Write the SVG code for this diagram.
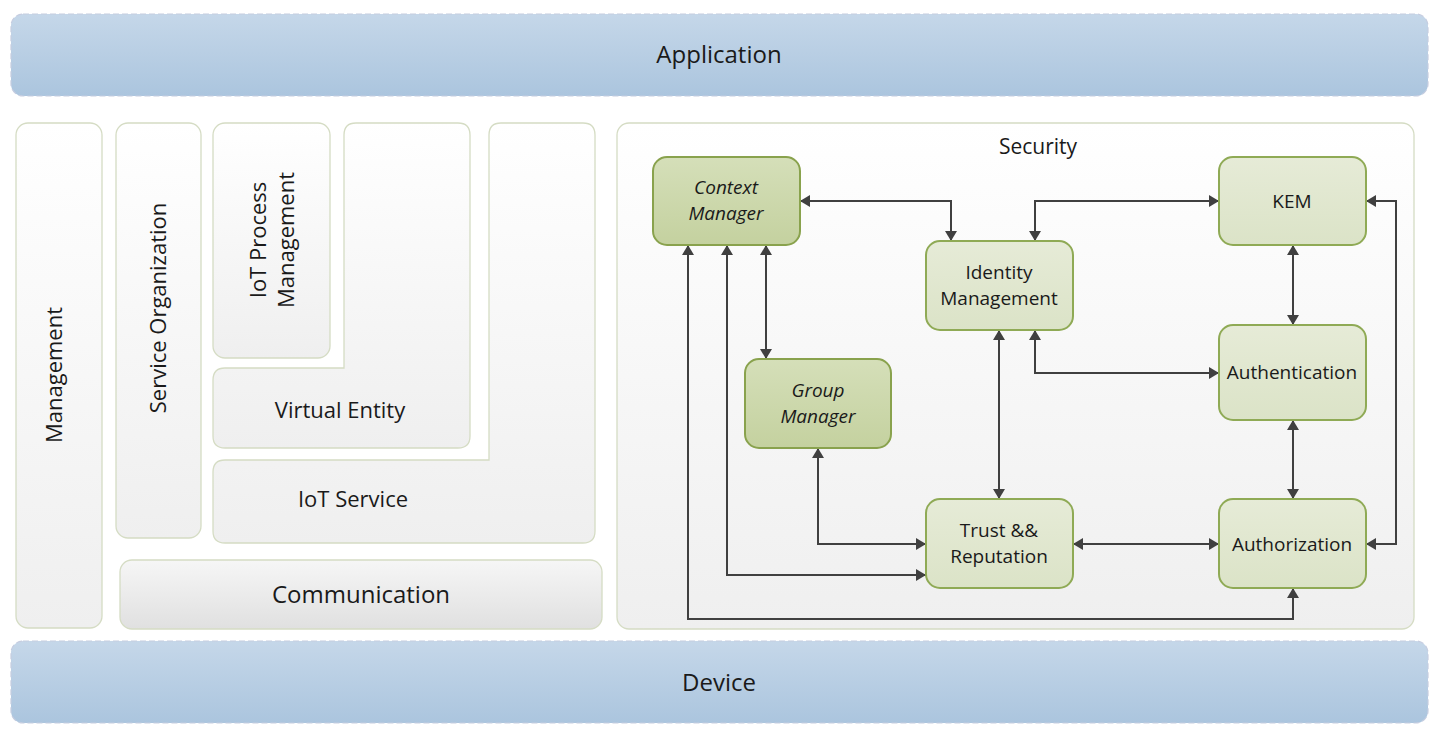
<svg xmlns="http://www.w3.org/2000/svg" width="1440" height="735" viewBox="0 0 1440 735">
<defs>
<linearGradient id="gBlue" x1="0" y1="0" x2="0" y2="1"><stop offset="0" stop-color="#c5d7e9"/><stop offset="1" stop-color="#abc5de"/></linearGradient>
<linearGradient id="gGrey" x1="0" y1="0" x2="0" y2="1"><stop offset="0" stop-color="#ffffff"/><stop offset="1" stop-color="#efefef"/></linearGradient>
<linearGradient id="gComm" x1="0" y1="0" x2="0" y2="1"><stop offset="0" stop-color="#f6f6f6"/><stop offset="1" stop-color="#e0e0e0"/></linearGradient>
<linearGradient id="gLight" x1="0" y1="0" x2="0" y2="1"><stop offset="0" stop-color="#e6ebd7"/><stop offset="1" stop-color="#dbe3c7"/></linearGradient>
<linearGradient id="gDark" x1="0" y1="0" x2="0" y2="1"><stop offset="0" stop-color="#d5dfb9"/><stop offset="1" stop-color="#c4d19f"/></linearGradient>
<marker id="arr" viewBox="0 0 10 12" refX="10" refY="6" markerWidth="10" markerHeight="12" markerUnits="userSpaceOnUse" orient="auto-start-reverse"><path d="M0,0 L10,6 L0,12 Z" fill="#404040"/></marker>
<style>
.bar{fill:url(#gBlue);stroke:#c6cde0;stroke-width:1.2;stroke-dasharray:6 3}
.box{fill:url(#gGrey);stroke:#d5dcc4;stroke-width:1.3}
.comm{fill:url(#gComm);stroke:#d5dcc4;stroke-width:1.3}
.nl{fill:url(#gLight);stroke:#8faa55;stroke-width:2}
.nd{fill:url(#gDark);stroke:#89a24d;stroke-width:2}
text{font-family:"Open Sans","Noto Sans",sans-serif;fill:#1a1a1a;text-anchor:middle}
.t{font-size:19px}
.it{font-size:19px;font-style:italic}
.big{font-size:24px}
.mid{font-size:22px}
.sec{font-size:21px}
.c{fill:none;stroke:#404040;stroke-width:2;marker-start:url(#arr);marker-end:url(#arr)}
</style>
</defs>
<g id="application"><rect class="bar" x="11" y="14" width="1417" height="82" rx="12"/><text class="big" x="719" y="63">Application</text></g>
<g id="device"><rect class="bar" x="11" y="641" width="1417" height="82" rx="12"/><text class="big" x="719" y="691">Device</text></g>
<g id="management"><rect class="box" x="16" y="123" width="86" height="505" rx="12"/><text class="mid" transform="translate(62,375) rotate(-90)">Management</text></g>
<g id="service-organization"><rect class="box" x="116" y="123" width="85" height="415" rx="12"/><text class="mid" transform="translate(166,308) rotate(-90)">Service Organization</text></g>
<g id="iot-process-management"><rect class="box" x="213" y="123" width="117" height="235" rx="12"/><text class="mid" transform="translate(272,240) rotate(-90)"><tspan x="0" y="-6">IoT Process</tspan><tspan x="0" y="22">Management</tspan></text></g>
<g id="virtual-entity"><path class="box" d="M356,123 H458 Q470,123 470,135 V436 Q470,448 458,448 H225 Q213,448 213,436 V380 Q213,368 225,368 H344 V135 Q344,123 356,123 Z"/><text class="mid" x="340" y="418">Virtual Entity</text></g>
<g id="iot-service"><path class="box" d="M501,123 H583 Q595,123 595,135 V531 Q595,543 583,543 H225 Q213,543 213,531 V472 Q213,460 225,460 H489 V135 Q489,123 501,123 Z"/><text class="mid" x="353" y="507">IoT Service</text></g>
<g id="communication"><rect class="comm" x="120" y="560" width="482" height="69" rx="12"/><text class="big" x="361" y="603">Communication</text></g>
<g id="security"><rect class="box" x="617" y="123" width="797" height="506" rx="12"/><text class="sec" x="1038" y="154">Security</text></g>
<g id="connectors">
<path class="c" d="M800,201 H951 V241"/>
<path class="c" d="M1219,201 H1035 V241"/>
<path class="c" d="M766,245 V359"/>
<path class="c" d="M999,330 V499"/>
<path class="c" d="M1035,330 V373 H1219"/>
<path class="c" d="M1293,245 V325"/>
<path class="c" d="M1293,420 V499"/>
<path class="c" d="M1073,544 H1219"/>
<path class="c" d="M1366,544 H1396 V201 H1366"/>
<path class="c" d="M818,448 V544 H926"/>
<path class="c" d="M727,245 V575 H926"/>
<path class="c" d="M688,245 V619 H1293 V588"/>
</g>
<g id="context-manager"><rect class="nd" x="653" y="157" width="147" height="88" rx="14"/><text class="it" x="726" y="194">Context</text><text class="it" x="726" y="220">Manager</text></g>
<g id="identity-management"><rect class="nl" x="926" y="241" width="147" height="89" rx="14"/><text class="t" x="999" y="279">Identity</text><text class="t" x="999" y="305">Management</text></g>
<g id="kem"><rect class="nl" x="1219" y="157" width="147" height="88" rx="14"/><text class="t" x="1292" y="208">KEM</text></g>
<g id="group-manager"><rect class="nd" x="745" y="359" width="146" height="89" rx="14"/><text class="it" x="818" y="397">Group</text><text class="it" x="818" y="423">Manager</text></g>
<g id="authentication"><rect class="nl" x="1219" y="325" width="147" height="95" rx="14"/><text class="t" x="1292" y="379">Authentication</text></g>
<g id="trust-reputation"><rect class="nl" x="926" y="499" width="147" height="89" rx="14"/><text class="t" x="999" y="537">Trust &amp;&amp;</text><text class="t" x="999" y="563">Reputation</text></g>
<g id="authorization"><rect class="nl" x="1219" y="499" width="147" height="89" rx="14"/><text class="t" x="1292" y="551">Authorization</text></g>
</svg>
